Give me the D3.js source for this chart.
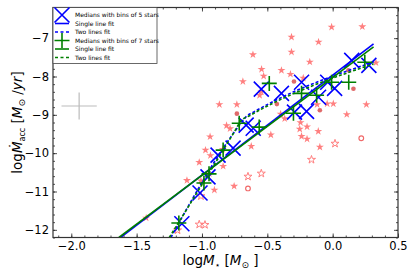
<!DOCTYPE html>
<html>
<head>
<meta charset="utf-8">
<script src="https://d3js.org/d3.v7.min.js"></script>
<style>
  body { margin: 0; background: #fff; }
  text { font-family: "DejaVu Sans", sans-serif; }
</style>
</head>
<body>
<svg id="chart" width="415" height="277"></svg>
<script>
// individual stars (log M*, log Macc)
var filledStarX = [-0.008, 0.227, -0.315, -0.108, -0.610, -0.315, -0.175, 0.331, -0.544, -0.392,
  -0.323, -0.528, -0.687, -0.225, -0.559, -0.546, -0.867, -0.733, -0.119, -0.042,
  0.005, 0.258, 0.108, -0.398, -0.367, -0.812, -0.785, -0.246, -0.252, -0.196,
  -0.238, -0.196, -0.110, -0.098, -0.473, -0.938, -0.623, -0.973, -0.841, -0.935,
  -1.021, -0.838, -1.115, -1.008, -0.944, -0.754, -0.905, -1.427];
var filledStarY = [-6.71, -6.70, -6.97, -7.10, -7.43, -7.36, -7.62, -7.64, -7.81, -7.84,
  -7.94, -7.99, -8.13, -8.04, -8.49, -8.40, -8.73, -8.73, -8.73, -8.71,
  -8.71, -8.73, -8.99, -8.98, -9.10, -9.28, -9.36, -9.20, -9.37, -9.31,
  -9.56, -9.63, -9.43, -9.84, -9.52, -9.57, -9.82, -9.92, -9.90, -10.06,
  -10.24, -10.34, -10.71, -10.72, -10.53, -10.86, -10.96, -11.69];
var openStarX = [0.018, -0.162, -0.648, -0.546, -1.008, -1.021, -0.977, -1.187];
var openStarY = [-9.75, -10.17, -10.61, -10.53, -11.12, -11.86, -11.87, -12.01];
var filledCircleX = [0.121, -0.296, 0.159, -0.098, -0.733, -0.427];
var filledCircleY = [-7.84, -8.13, -8.32, -8.88, -8.97, -8.72];
var openCircleX = [0.219, -0.648];
var openCircleY = [-9.61, -10.92];

// medians
var med5X = [-1.154, -1.015, -0.954, -0.877, -0.762, -0.662, -0.608, -0.546, -0.392, -0.238,
  -0.292, -0.200, -0.108, -0.038, 0.015, 0.146, 0.277];
var med5Y = [-11.84, -11.04, -10.62, -10.05, -9.87, -9.27, -9.35, -8.33, -8.44, -8.15,
  -8.93, -8.91, -8.54, -8.15, -8.31, -7.58, -7.71];
var med7X = [-1.177, -0.985, -0.946, -0.838, -0.715, -0.562, -0.485, -0.300, -0.238, -0.123,
  -0.008, 0.123, 0.246];
var med7Y = [-11.82, -10.78, -10.54, -9.92, -9.22, -9.32, -8.18, -8.96, -8.44, -8.49,
  -8.15, -8.15, -7.63];

// fits
var single5X = [-1.623, 0.313], single5Y = [-12.2, -7.15];
var single7X = [-1.636, 0.313], single7Y = [-12.2, -7.23];
var two5X = [-1.238, -0.72, -0.66, -0.60, 0.313];
var two5Y = [-12.2, -9.30, -9.04, -8.92, -7.62];
var two7X = [-1.25, -0.75, -0.70, -0.64, 0.313];
var two7Y = [-12.2, -9.43, -9.15, -9.03, -7.67];

// typical error
var errX = -1.94, errY = -8.77, errDX = 0.135, errDY = 0.35;

var xTicks = [-2.0, -1.5, -1.0, -0.5, 0.0, 0.5];
var yTicks = [-12, -11, -10, -9, -8, -7];

var legendLabels = ["Medians with bins of 5 stars", "Single line fit", "Two lines fit",
  "Medians with bins of 7 stars", "Single line fit", "Two lines fit"];

var blue = "#0000ff", green = "#008000", pink = "#ff8080";

var margin = {left: 53, right: 17, top: 7.5, bottom: 39.5};
var width = 415 - margin.left - margin.right;
var height = 277 - margin.top - margin.bottom;

var svg = d3.select("#chart");
var g = svg.append("g").attr("transform", "translate(" + margin.left + "," + margin.top + ")");

var x = d3.scaleLinear().domain([-2.14, 0.5]).range([0, width]);
var y = d3.scaleLinear().domain([-12.2, -6.2]).range([height, 0]);

function zip(xs, ys) {
  return xs.map(function(v, i) { return {x: v, y: ys[i]}; });
}

g.append("clipPath").attr("id", "clip")
  .append("rect").attr("width", width).attr("height", height);

var plot = g.append("g").attr("clip-path", "url(#clip)");

// scatter
var star = d3.symbol().type(d3.symbolStar).size(20);
var circ = d3.symbol().type(d3.symbolCircle).size(17);

function at(d) { return "translate(" + x(d.x) + "," + y(d.y) + ")"; }

plot.selectAll(".fstar").data(zip(filledStarX, filledStarY)).enter().append("path")
  .attr("d", star).attr("transform", at)
  .attr("fill", pink).attr("stroke", "none");
plot.selectAll(".ostar").data(zip(openStarX, openStarY)).enter().append("path")
  .attr("d", star).attr("transform", at)
  .attr("fill", "none").attr("stroke", pink).attr("stroke-width", 1);
plot.selectAll(".fcirc").data(zip(filledCircleX, filledCircleY)).enter().append("path")
  .attr("d", circ).attr("transform", at)
  .attr("fill", "#e06a6a").attr("stroke", "none");
plot.selectAll(".ocirc").data(zip(openCircleX, openCircleY)).enter().append("path")
  .attr("d", circ).attr("transform", at)
  .attr("fill", "none").attr("stroke", "#f06a6a").attr("stroke-width", 1.2);

// error cross
plot.append("line").attr("x1", x(errX - errDX)).attr("x2", x(errX + errDX))
  .attr("y1", y(errY)).attr("y2", y(errY)).attr("stroke", "#bbb").attr("stroke-width", 1.2);
plot.append("line").attr("x1", x(errX)).attr("x2", x(errX))
  .attr("y1", y(errY - errDY)).attr("y2", y(errY + errDY)).attr("stroke", "#bbb").attr("stroke-width", 1.2);

var line = d3.line().x(function(d) { return x(d.x); }).y(function(d) { return y(d.y); });
var curve = d3.line().x(function(d) { return x(d.x); }).y(function(d) { return y(d.y); })
  .curve(d3.curveMonotoneX);

var S = 7.5;

function crossPath(px, py) {
  return "M" + (px - S) + "," + (py - S) + "L" + (px + S) + "," + (py + S) +
    "M" + (px - S) + "," + (py + S) + "L" + (px + S) + "," + (py - S);
}
function plusPath(px, py) {
  return "M" + (px - S) + "," + py + "L" + (px + S) + "," + py +
    "M" + px + "," + (py - S) + "L" + px + "," + (py + S);
}

function drawSet(mx, my, shape, sx, sy, tx, ty, color) {
  plot.append("g").selectAll("path").data(zip(mx, my)).enter().append("path")
    .attr("d", function(d) { return shape(x(d.x), y(d.y)); })
    .attr("stroke", color).attr("stroke-width", 1.6).attr("fill", "none");
  plot.append("path").datum(zip(sx, sy)).attr("d", line)
    .attr("stroke", color).attr("stroke-width", 1.6).attr("fill", "none");
  plot.append("path").datum(zip(tx, ty)).attr("d", curve)
    .attr("stroke", color).attr("stroke-width", 1.6).attr("fill", "none")
    .attr("stroke-dasharray", "3,2");
}

drawSet(med5X, med5Y, crossPath, single5X, single5Y, two5X, two5Y, blue);
drawSet(med7X, med7Y, plusPath, single7X, single7Y, two7X, two7Y, green);

// axes, ticks inside on all sides
function minor(lo, hi, step) {
  return d3.range(Math.round(lo / step), Math.round(hi / step) + 1).map(function(i) { return +(i * step).toFixed(2); });
}
var xMinor = minor(-2.1, 0.5, 0.1);
var yMinor = minor(-12.2, -6.2, 0.2);
var fmtX = function(d) { return d3.format(".1f")(d).replace("-", "\u2212"); };
var fmtY = function(d) { return d3.format("d")(d).replace("-", "\u2212"); };

function tickAxis(axis, sc, ticks, size, fmt) {
  return axis(sc).tickValues(ticks).tickSize(size).tickPadding(4).tickFormat(fmt);
}

var axB = g.append("g").attr("class", "xAxis").attr("transform", "translate(0," + height + ")");
axB.call(tickAxis(d3.axisTop, x, xMinor, 2, ""));
axB.append("g").call(tickAxis(d3.axisTop, x, xTicks, 4, ""));
axB.append("g").call(tickAxis(d3.axisBottom, x, xTicks, 0, fmtX));
var axT = g.append("g");
axT.call(tickAxis(d3.axisBottom, x, xMinor, 2, ""));
axT.append("g").call(tickAxis(d3.axisBottom, x, xTicks, 4, ""));
var axL = g.append("g").attr("class", "yAxis");
axL.call(tickAxis(d3.axisRight, y, yMinor, 2, ""));
axL.append("g").call(tickAxis(d3.axisRight, y, yTicks, 4, ""));
axL.append("g").call(tickAxis(d3.axisLeft, y, yTicks, 0, fmtY));
var axR = g.append("g").attr("transform", "translate(" + width + ",0)");
axR.call(tickAxis(d3.axisLeft, y, yMinor, 2, ""));
axR.append("g").call(tickAxis(d3.axisLeft, y, yTicks, 4, ""));

g.selectAll(".domain").remove();
g.selectAll(".tick line").attr("stroke", "#222").attr("stroke-width", 0.8);
g.selectAll(".tick text").attr("font-size", "11.5px").attr("fill", "#000")
  .attr("font-family", "DejaVu Sans");

g.append("rect").attr("width", width).attr("height", height)
  .attr("fill", "none").attr("stroke", "#333").attr("stroke-width", 1.2);

// legend
var leg = g.append("g");
leg.append("rect").attr("x", 0).attr("y", 0).attr("width", 104).attr("height", 56)
  .attr("fill", "#fff").attr("stroke", "#444").attr("stroke-width", 0.8);
var rowY = [7.5, 16, 24.5, 33, 41.5, 50];
legendLabels.forEach(function(t, i) {
  var color = i < 3 ? blue : green;
  var cy = rowY[i], cx = 9;
  var kind = i % 3;
  if (kind === 0) {
    leg.append("path").attr("d", (i < 3 ? crossPath : plusPath)(cx, cy))
      .attr("stroke", color).attr("stroke-width", 1.6).attr("fill", "none");
  } else {
    leg.append("line").attr("x1", cx - 7).attr("x2", cx + 7).attr("y1", cy).attr("y2", cy)
      .attr("stroke", color).attr("stroke-width", 1.6)
      .attr("stroke-dasharray", kind === 2 ? "3,2.5" : null);
  }
  leg.append("text").attr("x", 22).attr("y", cy).attr("dy", "0.35em")
    .attr("font-size", "6px").attr("fill", "#000").text(t);
});

// axis labels
var xl = svg.append("text").attr("x", margin.left + width / 2 - 5).attr("y", 265)
  .attr("text-anchor", "middle").attr("font-size", "13.5px").attr("fill", "#000");
xl.append("tspan").text("log");
xl.append("tspan").attr("font-style", "italic").text("M");
xl.append("tspan").attr("font-size", "9px").attr("dy", 3).text("\u22c6");
xl.append("tspan").attr("dy", -3).text(" [");
xl.append("tspan").attr("font-style", "italic").text("M");
xl.append("tspan").attr("font-size", "9px").attr("dy", 3).text("\u2299");
xl.append("tspan").attr("dy", -3).text(" ]");

var yl = svg.append("text").attr("transform", "translate(22," + (margin.top + height / 2) + ") rotate(-90)")
  .attr("text-anchor", "middle").attr("font-size", "13.5px").attr("fill", "#000");
yl.append("tspan").text("log");
yl.append("tspan").attr("font-style", "italic").text("\u1e40");
yl.append("tspan").attr("font-size", "8px").attr("dy", 3).text("acc");
yl.append("tspan").attr("dy", -3).text(" [");
yl.append("tspan").attr("font-style", "italic").text("M");
yl.append("tspan").attr("font-size", "9px").attr("dy", 3).text("\u2299");
yl.append("tspan").attr("dy", -3).text(" /");
yl.append("tspan").attr("font-style", "italic").text("yr");
yl.append("tspan").text("]");
</script>
</body>
</html>
